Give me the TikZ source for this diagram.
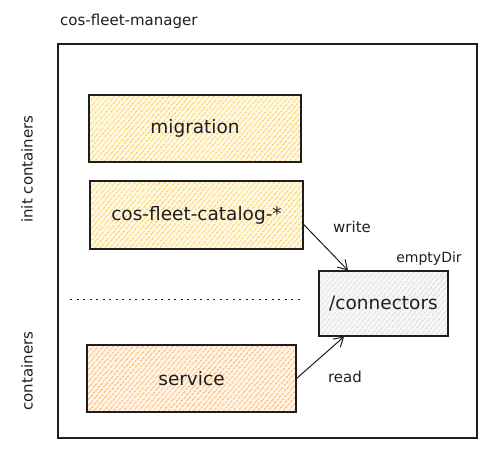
\documentclass[tikz,border=0pt]{standalone}
\usepackage{fontspec}
\setmainfont{DejaVu Sans}
\usetikzlibrary{patterns.meta,arrows.meta}
\definecolor{hyellow}{HTML}{FCC93C}
\definecolor{horange}{HTML}{FFA94D}
\definecolor{hgray}{HTML}{D4D8DC}
\definecolor{ink}{HTML}{1E1E1E}
\tikzset{
  lbl/.style={font=\fontsize{15}{17}\selectfont, text=ink, inner sep=0pt},
  boxlbl/.style={font=\fontsize{18.5}{21}\selectfont, text=ink},
  hbox/.style={draw=ink, line width=1.1pt, rectangle, inner sep=0pt},
  hatch/.style={preaction={pattern={Lines[angle=50,distance=4pt,line width=1.05pt]}, pattern color=#1}},
  yellowbox/.style={preaction={fill=hyellow!12}, hatch=hyellow, hbox},
  orangebox/.style={preaction={fill=horange!12}, hatch=horange, hbox},
  graybox/.style={preaction={fill=hgray!20}, hatch=hgray, hbox},
  arr/.style={draw=ink, line width=1pt, -{Straight Barb[length=9pt,width=11pt,line width=1pt]}},
}
\begin{document}
\begin{tikzpicture}[x=1pt,y=-1pt]
\useasboundingbox (0,0) rectangle (486,448);
\node[draw=ink, line width=1.2pt, rectangle, minimum width=419pt, minimum height=394pt, inner sep=0pt] (frame) at (267.5,241) {};
\node[lbl, anchor=west] (title) at (60,21) {cos-fleet-manager};
\node[yellowbox, minimum width=212pt, minimum height=67pt, boxlbl] (migration) at (195,128.5) {migration};
\node[yellowbox, minimum width=213pt, minimum height=68pt, boxlbl] (catalog) at (196.5,215) {cos-fleet-catalog-*};
\node[orangebox, minimum width=209pt, minimum height=67pt, boxlbl] (service) at (191.5,378.5) {service};
\node[graybox, minimum width=129pt, minimum height=65pt, boxlbl] (conn) at (383.5,303.5) {/connectors};
\node[lbl, font=\fontsize{14}{16}\selectfont] (emptydir) at (429,259) {emptyDir};
\node[lbl] (write) at (352,227) {write};
\node[lbl] (read) at (345,377) {read};
\node[lbl, rotate=90] (init) at (27,169) {init containers};
\node[lbl, rotate=90] (cont) at (27,371) {containers};
\coordinate (dl) at (70,299);
\coordinate (dr) at (303,299);
\draw[ink, line width=1pt, dash pattern=on 2pt off 4.5pt] (dl) -- (dr);
\draw[arr] (catalog.-5) -- (conn.137);
\draw[arr] (service.east) -- (conn.-140);
\end{tikzpicture}
\end{document}
